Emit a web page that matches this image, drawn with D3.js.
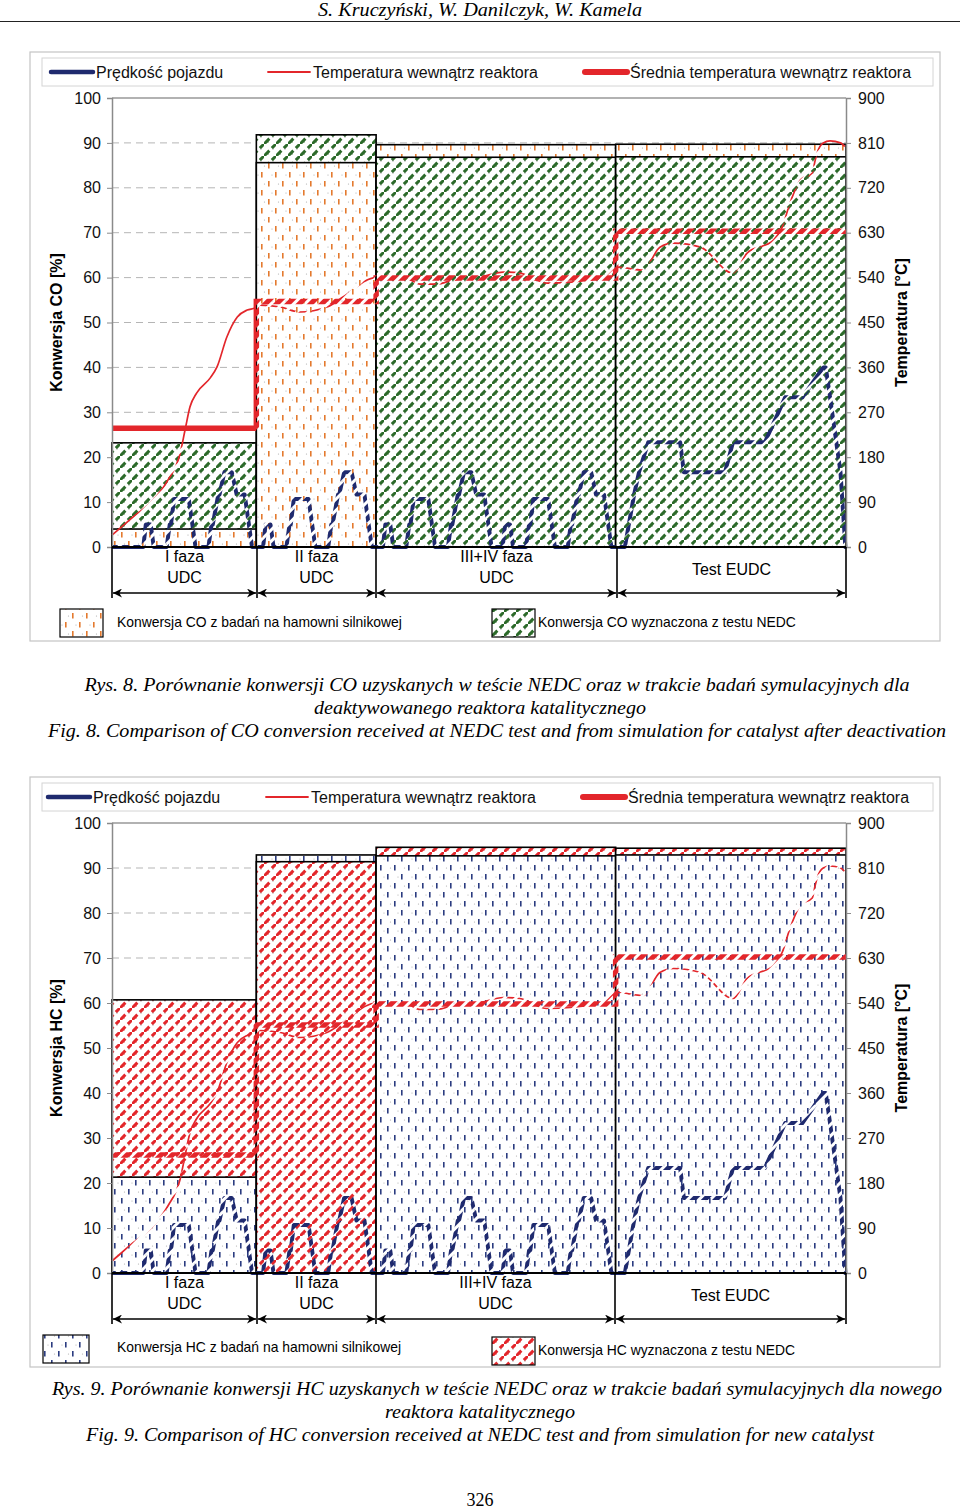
<!DOCTYPE html>
<html>
<head>
<meta charset="utf-8">
<script src="https://cdn.jsdelivr.net/npm/d3@7"></script>
<style>
  body { margin: 0; background: #fff; }
  svg { display: block; }
</style>
</head>
<body>
<div id="page"></div>
<script>
// phases of the NEDC test (time in s)
const phaseLabels = [['I faza', 'UDC'], ['II faza', 'UDC'], ['III+IV faza', 'UDC'], ['Test EUDC']]
const phaseEdges = [0, 235, 430, 820, 1195]

const pctTicks = [0, 10, 20, 30, 40, 50, 60, 70, 80, 90, 100]
const tempTicks = [0, 90, 180, 270, 360, 450, 540, 630, 720, 810, 900]

// conversion [%] per phase
const coDyno = [4.0, 85.6, 89.6, 89.7]
const coNedc = [23.2, 91.8, 86.8, 86.9]
const hcDyno = [21.3, 92.9, 92.7, 92.9]
const hcNedc = [60.7, 91.4, 94.6, 94.4]

// mean reactor temperature per phase [°C]
const avgTempCO = [238, 492, 539, 633]
const avgTempHC = [236, 496, 538, 632]

// vehicle speed [s, km/h]
const speed = [
  [0, 0], [51, 0], [55, 15], [63, 15], [68, 0], [89, 0], [94, 15], [96, 15], [101, 32], [125, 32], [136, 0],
  [157, 0], [162, 15], [164, 15], [173, 35], [175, 35], [183, 50], [195, 50], [203, 35], [216, 35], [228, 0], [235, 0],
  [246, 0], [250, 15], [258, 15], [263, 0], [284, 0], [289, 15], [291, 15], [296, 32], [320, 32], [331, 0],
  [352, 0], [357, 15], [359, 15], [368, 35], [370, 35], [378, 50], [390, 50], [398, 35], [411, 35], [423, 0], [430, 0],
  [441, 0], [445, 15], [453, 15], [458, 0], [479, 0], [484, 15], [486, 15], [491, 32], [515, 32], [526, 0],
  [547, 0], [552, 15], [554, 15], [563, 35], [565, 35], [573, 50], [585, 50], [593, 35], [606, 35], [618, 0], [625, 0],
  [636, 0], [640, 15], [648, 15], [653, 0], [674, 0], [679, 15], [681, 15], [686, 32], [710, 32], [721, 0],
  [742, 0], [747, 15], [749, 15], [758, 35], [760, 35], [768, 50], [780, 50], [788, 35], [801, 35], [813, 0], [820, 0],
  [835, 0], [850, 35], [858, 50], [873, 70], [925, 70], [931, 50], [998, 50], [1011, 70], [1063, 70],
  [1096, 100], [1124, 100], [1158, 120], [1162, 120], [1169, 100], [1186, 50], [1194, 0], [1195, 0]
]

// reactor temperature [s, °C]
const temperature = [
  [0, 24], [34, 60], [67, 94], [91, 134], [111, 188], [119, 235], [127, 281], [138, 309], [160, 339], [171, 361],
  [187, 421], [204, 461], [220, 475], [233, 479], [241, 485], [274, 481], [306, 471], [350, 481], [376, 501],
  [415, 535], [432, 541], [474, 541], [502, 527], [529, 527], [555, 535], [599, 541], [637, 551], [664, 549],
  [708, 529], [746, 531], [800, 541], [822, 561], [865, 555], [892, 601], [914, 609], [958, 601], [1011, 549],
  [1034, 589], [1077, 615], [1091, 641], [1104, 690], [1121, 736], [1140, 750], [1145, 776], [1148, 790],
  [1158, 810], [1169, 814], [1186, 810], [1195, 800]
]

const sans = '"Liberation Sans", Arial, sans-serif'
const serif = '"Liberation Serif", "Times New Roman", serif'
const speedColor = '#1f2a6e'
const tempColor = '#e3262b'

const svg = d3.select('#page').append('svg').attr('width', 960).attr('height', 1511)
const defs = svg.append('defs')

// hatch fill: diagonal dashed stripes
let hatchPattern = (id, color) => {
  const p = defs.append('pattern').attr('id', id).attr('patternUnits', 'userSpaceOnUse')
    .attr('width', 12).attr('height', 12)
  p.append('rect').attr('width', 12).attr('height', 12).attr('fill', '#fff')
  p.append('path').attr('d', 'M-1,13 L13,-1').attr('stroke', color).attr('stroke-width', 3)
    .attr('stroke-dasharray', '9,3.5')
  p.append('path').attr('d', 'M2.5,10.5 L5,10.5 L4,8 Z').attr('fill', color).attr('opacity', 0.75)
  p.append('circle').attr('cx', 9).attr('cy', 5).attr('r', 0.6).attr('fill', '#888')
}
// dyno fill: staggered short vertical dashes
let dashPattern = (id, color) => {
  const p = defs.append('pattern').attr('id', id).attr('patternUnits', 'userSpaceOnUse')
    .attr('width', 14).attr('height', 18)
  p.append('rect').attr('width', 14).attr('height', 18).attr('fill', '#fff')
  p.append('rect').attr('x', 2).attr('y', 1).attr('width', 1.6).attr('height', 5.5).attr('fill', color)
  p.append('rect').attr('x', 9).attr('y', 10).attr('width', 1.6).attr('height', 5.5).attr('fill', color)
  p.append('circle').attr('cx', 6).attr('cy', 13).attr('r', 0.6).attr('fill', '#aaa')
  p.append('circle').attr('cx', 12.5).attr('cy', 4).attr('r', 0.6).attr('fill', '#aaa')
}
hatchPattern('greenHatch', '#2c6a2a')
hatchPattern('redHatch', '#e3262b')
dashPattern('orangeDash', '#e47a2e')
dashPattern('blueDash', '#2b3c80')

// stripes used to break the lines where they run over the bars
const holes = defs.append('pattern').attr('id', 'holes').attr('patternUnits', 'userSpaceOnUse')
  .attr('width', 8).attr('height', 8).attr('patternTransform', 'rotate(45)')
holes.append('rect').attr('width', 8).attr('height', 8).attr('fill', '#000')
holes.append('rect').attr('width', 5).attr('height', 8).attr('fill', '#fff')

const arrow = defs.append('marker').attr('id', 'arrow').attr('viewBox', '0 0 10 10')
  .attr('refX', 10).attr('refY', 5).attr('markerWidth', 11).attr('markerHeight', 9)
  .attr('markerUnits', 'userSpaceOnUse').attr('orient', 'auto-start-reverse')
arrow.append('path').attr('d', 'M0,0 L10,5 L0,10 L3,5 Z').attr('fill', '#000')

const x = d3.scaleLinear().domain([0, 1195]).range([112, 846])

let drawChart = (cfg) => {
  const g = svg.append('g')
  const yPct = d3.scaleLinear().domain([0, 100]).range([cfg.bottom, cfg.top])
  const yTemp = d3.scaleLinear().domain([0, 900]).range([cfg.bottom, cfg.top])
  const ySpeed = d3.scaleLinear().domain([0, 300]).range([cfg.bottom, cfg.top])

  // outer frame and legend
  g.append('rect').attr('x', 30).attr('y', cfg.frameTop).attr('width', 910).attr('height', cfg.frameH)
    .attr('fill', 'none').attr('stroke', '#c4c4c4').attr('stroke-width', 1.2)
  g.append('rect').attr('x', 42).attr('y', cfg.frameTop + 6).attr('width', 891).attr('height', 28)
    .attr('fill', 'none').attr('stroke', '#d4d4d4')
  const ly = cfg.frameTop + 20
  const legendItems = [
    {x: cfg.legX[0], w: 4.5, text: 'Prędkość pojazdu', color: speedColor},
    {x: cfg.legX[1], w: 1.8, text: 'Temperatura wewnątrz reaktora', color: tempColor},
    {x: cfg.legX[2], w: 6, text: 'Średnia temperatura wewnątrz reaktora', color: tempColor}
  ]
  legendItems.forEach(d => {
    g.append('line').attr('x1', d.x).attr('x2', d.x + 42).attr('y1', ly).attr('y2', ly)
      .attr('stroke', d.color).attr('stroke-width', d.w).attr('stroke-linecap', 'round')
    g.append('text').attr('x', d.x + 45).attr('y', ly + 6).attr('font-family', sans).attr('font-size', 16)
      .attr('fill', '#111').text(d.text)
  })

  // grid
  g.selectAll('.grid').data(pctTicks.slice(1, -1)).enter().append('line')
    .attr('x1', 112).attr('x2', 846).attr('y1', d => yPct(d)).attr('y2', d => yPct(d))
    .attr('stroke', '#b5b5b5').attr('stroke-dasharray', '7,5')
  g.append('line').attr('x1', 112).attr('x2', 846).attr('y1', yPct(100)).attr('y2', yPct(100))
    .attr('stroke', '#999').attr('stroke-width', 1.5)

  // bars: taller one behind, shorter one in front
  const bars = []
  phaseLabels.forEach((p, i) => {
    const pair = [{v: cfg.nedc[i], fill: cfg.nedcFill}, {v: cfg.dyno[i], fill: cfg.dynoFill}]
    pair.sort((a, b) => b.v - a.v)
    pair.forEach(d => bars.push({x0: phaseEdges[i], x1: phaseEdges[i + 1], v: d.v, fill: d.fill}))
  })
  g.selectAll('.bar').data(bars).enter().append('rect')
    .attr('x', d => x(d.x0)).attr('width', d => x(d.x1) - x(d.x0))
    .attr('y', d => yPct(d.v)).attr('height', d => cfg.bottom - yPct(d.v))
    .attr('fill', d => 'url(#' + d.fill + ')').attr('stroke', '#000').attr('stroke-width', 1.6)

  // mask: lines show only partly over the patterned bars
  const mask = defs.append('mask').attr('id', cfg.id + 'Mask').attr('maskUnits', 'userSpaceOnUse')
    .attr('x', 0).attr('y', 0).attr('width', 960).attr('height', 1511)
  mask.append('rect').attr('width', 960).attr('height', 1511).attr('fill', '#fff')
  mask.selectAll('rect.b').data(bars).enter().append('rect').attr('class', 'b')
    .attr('x', d => x(d.x0)).attr('width', d => x(d.x1) - x(d.x0))
    .attr('y', d => yPct(d.v)).attr('height', d => cfg.bottom - yPct(d.v))
    .attr('fill', 'url(#holes)')

  const lines = g.append('g').attr('mask', 'url(#' + cfg.id + 'Mask)')
  lines.append('path').datum(speed)
    .attr('d', d3.line().x(d => x(d[0])).y(d => ySpeed(d[1])))
    .attr('fill', 'none').attr('stroke', speedColor).attr('stroke-width', 4).attr('stroke-linejoin', 'round')
  lines.append('path').datum(temperature)
    .attr('d', d3.line().curve(d3.curveMonotoneX).x(d => x(d[0])).y(d => yTemp(d[1])))
    .attr('fill', 'none').attr('stroke', tempColor).attr('stroke-width', 1.7)
  const avgPts = cfg.avg.map((v, i) => [phaseEdges[i], v]).concat([[phaseEdges[4], cfg.avg[3]]])
  lines.append('path').datum(avgPts)
    .attr('d', d3.line().curve(d3.curveStepAfter).x(d => x(d[0])).y(d => yTemp(d[1])))
    .attr('fill', 'none').attr('stroke', tempColor).attr('stroke-width', 5.5)

  // axes
  const left = g.append('g').attr('transform', 'translate(112,0)')
    .call(d3.axisLeft(yPct).tickValues(pctTicks).tickSize(5).tickPadding(6))
  const right = g.append('g').attr('transform', 'translate(846,0)')
    .call(d3.axisRight(yTemp).tickValues(tempTicks).tickSize(5).tickPadding(7))
  ;[left, right].forEach(a => {
    a.select('.domain').attr('stroke', '#8a8a8a').attr('stroke-width', 1.5)
    a.selectAll('.tick line').attr('stroke', '#8a8a8a')
    a.selectAll('.tick text').attr('font-family', sans).attr('font-size', 16).attr('fill', '#111')
  })
  g.append('line').attr('x1', 112).attr('x2', 846).attr('y1', cfg.bottom).attr('y2', cfg.bottom)
    .attr('stroke', '#000').attr('stroke-width', 2)

  const midY = (cfg.top + cfg.bottom) / 2
  g.append('text').attr('transform', 'translate(62,' + midY + ') rotate(-90)').attr('text-anchor', 'middle')
    .attr('font-family', sans).attr('font-size', 16).attr('font-weight', 'bold').text(cfg.yTitle)
  g.append('text').attr('transform', 'translate(907,' + midY + ') rotate(-90)').attr('text-anchor', 'middle')
    .attr('font-family', sans).attr('font-size', 16).attr('font-weight', 'bold').text('Temperatura [°C]')

  // phase separators, names and arrows
  const edgesPx = cfg.edgesPx
  edgesPx.forEach(px => {
    g.append('line').attr('x1', px).attr('x2', px).attr('y1', cfg.bottom).attr('y2', cfg.bottom + 51)
      .attr('stroke', '#000').attr('stroke-width', 1.6)
  })
  phaseLabels.forEach((lab, i) => {
    const cx = (edgesPx[i] + edgesPx[i + 1]) / 2
    if (lab.length === 2) {
      lab.forEach((t, j) => {
        g.append('text').attr('x', cx).attr('y', cfg.bottom + 15 + j * 21).attr('text-anchor', 'middle')
          .attr('font-family', sans).attr('font-size', 16).text(t)
      })
    } else {
      g.append('text').attr('x', cx).attr('y', cfg.bottom + 28).attr('text-anchor', 'middle')
        .attr('font-family', sans).attr('font-size', 16).text(lab[0])
    }
    g.append('line').attr('x1', edgesPx[i] + 1).attr('x2', edgesPx[i + 1] - 1)
      .attr('y1', cfg.bottom + 46).attr('y2', cfg.bottom + 46)
      .attr('stroke', '#000').attr('stroke-width', 1.6)
      .attr('marker-start', 'url(#arrow)').attr('marker-end', 'url(#arrow)')
  })

  // bottom legend
  cfg.boxes.forEach(b => {
    g.append('rect').attr('x', b.x).attr('y', b.y).attr('width', b.w).attr('height', 28)
      .attr('fill', 'url(#' + b.fill + ')').attr('stroke', '#000').attr('stroke-width', 1.2)
    g.append('text').attr('x', b.tx).attr('y', b.ty).attr('font-family', sans).attr('font-size', 13.9)
      .text(b.text)
  })

  // caption
  cfg.caption.forEach(c => {
    g.append('text').attr('x', c.x).attr('y', c.y).attr('text-anchor', 'middle')
      .attr('font-family', serif).attr('font-style', 'italic').attr('font-size', 19)
      .attr('textLength', c.len).attr('lengthAdjust', 'spacingAndGlyphs').text(c.text)
  })
}

// page header
svg.append('text').attr('x', 480).attr('y', 16).attr('text-anchor', 'middle')
  .attr('font-family', serif).attr('font-style', 'italic').attr('font-size', 18)
  .attr('textLength', 324).attr('lengthAdjust', 'spacingAndGlyphs')
  .text('S. Kruczyński, W. Danilczyk, W. Kamela')
svg.append('line').attr('x1', 0).attr('x2', 960).attr('y1', 21.5).attr('y2', 21.5)
  .attr('stroke', '#222').attr('stroke-width', 1.2)

drawChart({
  id: 'co', top: 98, bottom: 547, frameTop: 52, frameH: 589,
  legX: [51, 268, 585],
  dyno: coDyno, nedc: coNedc, dynoFill: 'orangeDash', nedcFill: 'greenHatch',
  avg: avgTempCO, yTitle: 'Konwersja CO [%]',
  edgesPx: [112, 257, 376, 617, 846],
  boxes: [
    {x: 60, y: 609, w: 43, fill: 'orangeDash', tx: 117, ty: 627, text: 'Konwersja CO z badań na hamowni silnikowej'},
    {x: 492, y: 609, w: 43, fill: 'greenHatch', tx: 538, ty: 627, text: 'Konwersja CO wyznaczona z testu NEDC'}
  ],
  caption: [
    {x: 497, y: 691, len: 825, text: 'Rys. 8. Porównanie konwersji CO uzyskanych w teście NEDC oraz w trakcie badań symulacyjnych dla'},
    {x: 480, y: 714, len: 332, text: 'deaktywowanego reaktora katalitycznego'},
    {x: 497, y: 737, len: 898, text: 'Fig. 8. Comparison of CO conversion received at NEDC test and from simulation for catalyst after deactivation'}
  ]
})

drawChart({
  id: 'hc', top: 823, bottom: 1273, frameTop: 777, frameH: 590,
  legX: [48, 266, 583],
  dyno: hcDyno, nedc: hcNedc, dynoFill: 'blueDash', nedcFill: 'redHatch',
  avg: avgTempHC, yTitle: 'Konwersja HC [%]',
  edgesPx: [112, 257, 376, 615, 846],
  boxes: [
    {x: 43, y: 1335, w: 46, fill: 'blueDash', tx: 117, ty: 1352, text: 'Konwersja HC z badań na hamowni silnikowej'},
    {x: 492, y: 1337, w: 43, fill: 'redHatch', tx: 538, ty: 1355, text: 'Konwersja HC wyznaczona z testu NEDC'}
  ],
  caption: [
    {x: 497, y: 1395, len: 890, text: 'Rys. 9. Porównanie konwersji HC uzyskanych w teście NEDC oraz w trakcie badań symulacyjnych dla nowego'},
    {x: 480, y: 1418, len: 190, text: 'reaktora katalitycznego'},
    {x: 480, y: 1441, len: 788, text: 'Fig. 9. Comparison of HC conversion received at NEDC test and from simulation for new catalyst'}
  ]
})

svg.append('text').attr('x', 480).attr('y', 1506).attr('text-anchor', 'middle')
  .attr('font-family', serif).attr('font-size', 18).text('326')
</script>
</body>
</html>
